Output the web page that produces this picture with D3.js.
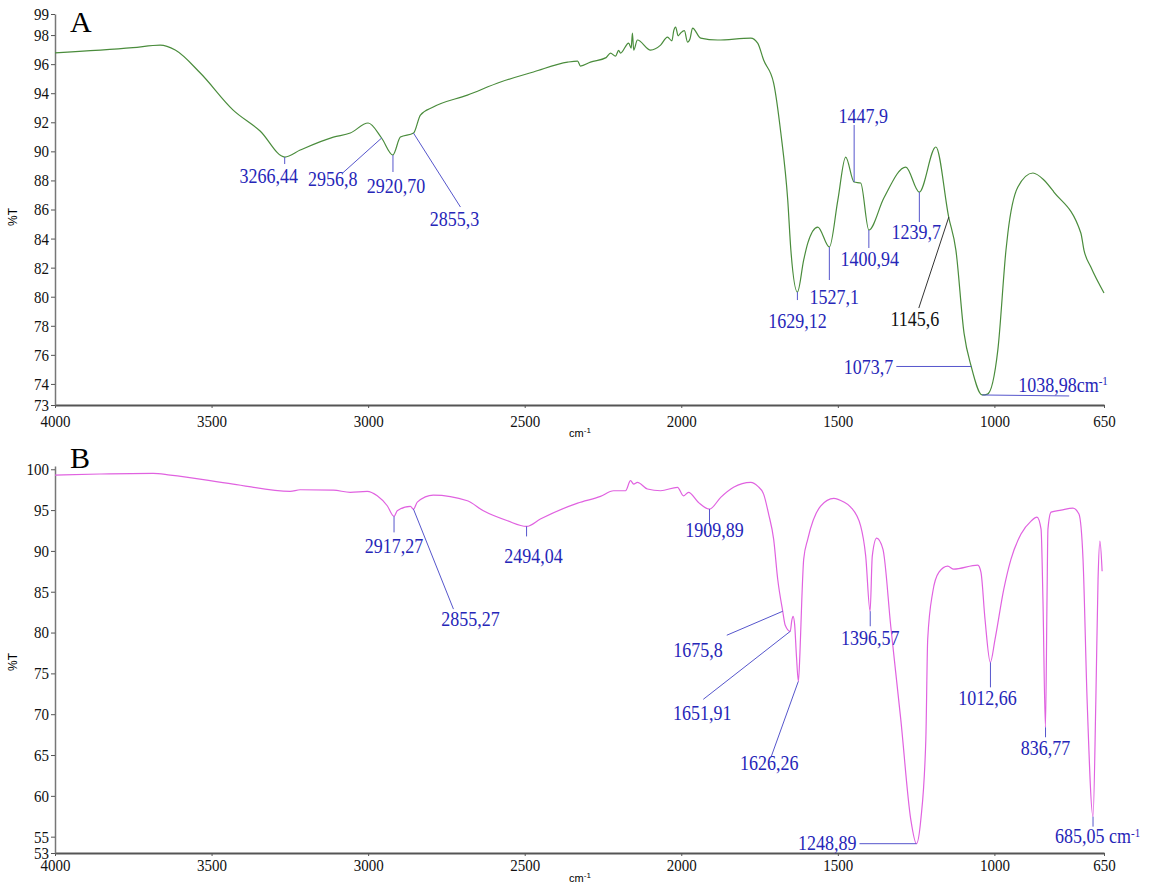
<!DOCTYPE html>
<html>
<head>
<meta charset="utf-8">
<script src="https://d3js.org/d3.v7.min.js"></script>
<style>
  body { margin: 0; background: #fff; }
  svg text { font-family: "Liberation Serif", "Times New Roman", serif; }
  .tick text { font-size: 15px; fill: #111; }
  .ann { font-size: 18px; fill: #2626b8; }
  .stretch { transform-box: fill-box; transform-origin: center; transform: scaleY(1.12); }
</style>
</head>
<body>
<svg width="1158" height="885"></svg>
<script>
// spectrum A (wavenumber, %T)
var wnA = [4000, 3751, 3664, 3616, 3536, 3431, 3345, 3266, 3217, 3111, 3057, 3000, 2957, 2921, 2897, 2855,
  2833, 2792, 2683, 2577, 2472, 2363, 2331, 2322, 2290, 2240, 2226, 2210, 2200, 2194, 2168, 2160, 2156, 2152,
  2140, 2098, 2066, 2044, 2030, 2024, 2018, 2010, 2002, 1990, 1980, 1972, 1964, 1938, 1884, 1778, 1756, 1737,
  1705, 1682, 1660, 1650, 1629, 1609, 1596, 1564, 1527, 1500, 1475, 1448, 1427, 1401, 1353, 1283, 1240, 1187,
  1146, 1123, 1097, 1074, 1039, 1022, 989, 963, 957, 925, 877, 842, 810, 724, 714, 692, 650];
var tA = [96.78, 97.13, 97.31, 96.97, 95.39, 92.84, 91.40, 89.61, 90.09, 90.98, 91.26, 91.95, 90.92, 89.75, 90.98, 91.26,
  92.50, 93.05, 93.87, 94.77, 95.46, 96.14, 96.21, 95.87, 96.14, 96.45, 96.76, 96.55, 96.95, 96.76, 97.45, 97.10, 98.14, 96.97,
  97.66, 96.97, 97.31, 97.86, 97.60, 98.30, 98.55, 97.95, 98.14, 98.30, 97.52, 97.75, 98.48, 97.79, 97.66, 97.79, 97.45, 96.28,
  94.70, 91.26, 86.65, 83.21, 80.32, 82.53, 83.69, 84.79, 83.42, 86.65, 89.61, 87.89, 87.82, 84.59, 86.79, 88.92, 87.20, 90.30,
  85.48, 83.21, 77.50, 75.20, 73.24, 73.30, 76.34, 83.21, 84.38, 87.55, 88.51, 88.03, 87.20, 84.38, 83.21, 82.04, 80.26];

// spectrum B
var wnB = [4000, 3856, 3687, 3632, 3431, 3249, 3217, 3111, 3057, 3003, 2971, 2939, 2917, 2907, 2865, 2855,
  2843, 2792, 2683, 2632, 2555, 2494, 2450, 2331, 2258, 2216, 2178, 2162, 2152, 2140, 2108, 2066, 2012,
  1993, 1977, 1945, 1910, 1874, 1833, 1778, 1756, 1737, 1721, 1705, 1692, 1676, 1668, 1652, 1647, 1643,
  1638, 1632, 1626, 1621, 1615, 1609, 1596, 1555, 1513, 1481, 1459, 1427, 1411, 1397, 1390, 1376, 1356,
  1331, 1299, 1267, 1249, 1235, 1219, 1213, 1197, 1177, 1149, 1130, 1053, 1043, 1030, 1013, 998, 970,
  947, 915, 883, 864, 851, 845, 837, 832, 829, 819, 787, 749, 730, 717, 704, 685, 676, 669, 663, 656];
var tB = [99.29, 99.42, 99.50, 99.29, 98.19, 97.29, 97.49, 97.45, 97.17, 97.29, 96.75, 95.53, 94.23, 94.91, 95.45, 95.12,
  95.98, 96.84, 96.14, 94.91, 93.69, 93.00, 93.90, 95.86, 96.68, 97.37, 97.37, 98.60, 98.19, 98.40, 97.58, 97.37, 97.79,
  96.75, 97.17, 95.94, 95.12, 96.56, 97.79, 98.40, 97.94, 96.96, 94.51, 91.44, 86.53, 82.61, 80.90, 80.15, 81.50, 82.00,
  81.00, 77.00, 74.02, 77.50, 84.08, 88.99, 91.44, 95.49, 96.44, 95.98, 95.37, 93.04, 89.36, 82.61, 89.36, 91.56, 90.21,
  80.77, 69.36, 57.09, 54.14, 57.09, 66.90, 79.17, 84.94, 87.39, 88.13, 87.76, 88.25, 87.39, 81.63, 76.35, 79.17, 85.31,
  88.99, 92.06, 93.65, 94.14, 92.67, 84.08, 68.40, 84.08, 92.67, 94.75, 95.00, 95.25, 94.51, 88.99, 71.81, 57.45, 71.81, 86.53, 91.20, 87.50];

// axis ticks
var xTicks = [4000, 3500, 3000, 2500, 2000, 1500, 1000, 650];
var yTicksA = [72.55, 74, 76, 78, 80, 82, 84, 86, 88, 90, 92, 94, 96, 98, 99.45];
var yTicksB = [53, 55, 60, 65, 70, 75, 80, 85, 90, 95, 100];

// labelled bands
var peaksA = [
  { label: "3266,44", wn: 3266.44, t: 89.61 },
  { label: "2956,8", wn: 2956.8, t: 90.92 },
  { label: "2920,70", wn: 2920.70, t: 89.75 },
  { label: "2855,3", wn: 2855.3, t: 91.26 },
  { label: "1629,12", wn: 1629.12, t: 80.32 },
  { label: "1527,1", wn: 1527.1, t: 83.42 },
  { label: "1447,9", wn: 1447.9, t: 87.89 },
  { label: "1400,94", wn: 1400.94, t: 84.59 },
  { label: "1239,7", wn: 1239.7, t: 87.20 },
  { label: "1145,6", wn: 1145.6, t: 85.48 },
  { label: "1073,7", wn: 1073.7, t: 75.20 },
  { label: "1038,98cm", wn: 1038.98, t: 73.24, sup: "-1" }
];
var peaksB = [
  { label: "2917,27", wn: 2917.27, t: 94.23 },
  { label: "2855,27", wn: 2855.27, t: 95.12 },
  { label: "2494,04", wn: 2494.04, t: 93.00 },
  { label: "1909,89", wn: 1909.89, t: 95.12 },
  { label: "1675,8", wn: 1675.8, t: 82.61 },
  { label: "1651,91", wn: 1651.91, t: 80.15 },
  { label: "1626,26", wn: 1626.26, t: 74.02 },
  { label: "1396,57", wn: 1396.57, t: 82.61 },
  { label: "1248,89", wn: 1248.89, t: 54.14 },
  { label: "1012,66", wn: 1012.66, t: 76.35 },
  { label: "836,77", wn: 836.77, t: 68.40 },
  { label: "685,05 cm", wn: 685.05, t: 57.45, sup: "-1" }
];

// leader end / text offsets in px from the band point
var layoutA = [
  { lead: [0, 7], text: [-16, 25] },
  { lead: [-39, 35], text: [-49, 47] },
  { lead: [0, 17], text: [3, 37] },
  { lead: [47, 74], text: [41, 92] },
  { lead: [0, 8], text: [0, 35] },
  { lead: [0, 33], text: [5, 56] },
  { lead: [0, -57], text: [9, -60] },
  { lead: [0, 18], text: [1, 35] },
  { lead: [0, 30], text: [-3, 46] },
  { lead: [-30, 91], text: [-34, 108], black: true },
  { lead: [-75, 0], text: [-78, 7], anchor: "end" },
  { lead: [87, 1], text: [36, -4], anchor: "start" }
];
var layoutB = [
  { lead: [0, 16], text: [0, 36] },
  { lead: [40, 100], text: [57, 116] },
  { lead: [0, 10], text: [7, 36] },
  { lead: [0, 17], text: [5, 27] },
  { lead: [-56, 24], text: [-60, 45], anchor: "end" },
  { lead: [-87, 68], text: [-88, 88] },
  { lead: [-27, 75], text: [-29, 88] },
  { lead: [0, 15], text: [0, 33] },
  { lead: [-57, 0], text: [-60, 6], anchor: "end" },
  { lead: [0, 25], text: [-3, 42] },
  { lead: [0, 10], text: [0, 27] },
  { lead: [0, 10], text: [-38, 26], anchor: "start" }
];

var svg = d3.select("svg");

function panel(o) {
  var g = svg.append("g");
  var x = d3.scaleLinear().domain([4000, 650]).range(o.xRange);
  var y = d3.scaleLinear().domain(o.yDomain).range(o.yRange);

  // x axis
  var xa = g.append("g")
    .attr("transform", "translate(0," + o.yRange[0] + ")")
    .call(d3.axisBottom(x).tickValues(xTicks).tickSize(3).tickSizeOuter(0)
      .tickPadding(o.xPad).tickFormat(d3.format("d")));
  xa.select(".domain").attr("stroke", "#555").attr("stroke-width", 2);
  xa.selectAll(".tick line").attr("stroke", "#555");
  xa.selectAll(".tick text").attr("class", "stretch");

  // y axis
  var ya = g.append("g")
    .attr("transform", "translate(" + o.xRange[0] + ",0)")
    .call(d3.axisLeft(y).tickValues(o.yTicks).tickSize(4).tickSizeOuter(0)
      .tickPadding(2).tickFormat(d3.format(".0f")));
  ya.select(".domain").attr("stroke", "#777").attr("stroke-width", 1.5);
  ya.selectAll(".tick line").attr("stroke", "#555");
  ya.selectAll(".tick text").attr("class", "stretch");

  // spectrum
  var pts = o.wn.map(function (w, i) { return [w, o.t[i]]; });
  g.append("path")
    .datum(pts)
    .attr("fill", "none")
    .attr("stroke", o.color)
    .attr("stroke-width", 1.2)
    .attr("d", d3.line()
      .x(function (d) { return x(d[0]); })
      .y(function (d) { return y(d[1]); })
      .curve(d3.curveMonotoneX));

  // band labels
  o.peaks.forEach(function (p, i) {
    var L = o.layout[i];
    var px = x(p.wn), py = y(p.t);
    g.append("line")
      .attr("x1", px).attr("y1", py)
      .attr("x2", px + L.lead[0]).attr("y2", py + L.lead[1])
      .attr("stroke", L.black ? "#333" : "#5656cc")
      .attr("stroke-width", 1);
    var t = g.append("text")
      .attr("class", "ann stretch")
      .attr("x", px + L.text[0])
      .attr("y", py + L.text[1])
      .attr("text-anchor", L.anchor || "middle")
      .style("fill", L.black ? "#111" : null)
      .text(p.label);
    if (p.sup) {
      t.append("tspan").attr("baseline-shift", "super").style("font-size", "11px").text(p.sup);
    }
  });

  // axis titles
  g.append("text")
    .attr("transform", "translate(17," + o.yTitle + ") rotate(-90)")
    .attr("text-anchor", "middle")
    .style("font-family", "'Liberation Sans', Arial, sans-serif")
    .style("font-size", "12px")
    .text("%T");
  var cm = g.append("text")
    .attr("x", 580).attr("y", o.yRange[0] + o.cmDy)
    .attr("text-anchor", "middle")
    .style("font-family", "'Liberation Sans', Arial, sans-serif")
    .style("font-size", "11px")
    .text("cm");
  cm.append("tspan").attr("baseline-shift", "super").style("font-size", "8px").text("-1");

  // panel letter
  g.append("text")
    .attr("x", o.xRange[0] + 15).attr("y", o.yRange[1] + o.letterDy)
    .style("font-size", "30px")
    .text(o.letter);
}

panel({
  letter: "A", letterDy: 18,
  wn: wnA, t: tA, color: "#4a8c3c",
  xRange: [55, 1104], yDomain: [72.55, 99.45], yRange: [405, 14],
  yTicks: yTicksA, xPad: 8, yTitle: 217, cmDy: 32,
  peaks: peaksA, layout: layoutA
});
panel({
  letter: "B", letterDy: 2,
  wn: wnB, t: tB, color: "#e062e0",
  xRange: [55, 1104], yDomain: [53, 100.4], yRange: [853, 466],
  yTicks: yTicksB, xPad: 4, yTitle: 662, cmDy: 29,
  peaks: peaksB, layout: layoutB
});
</script>
</body>
</html>
